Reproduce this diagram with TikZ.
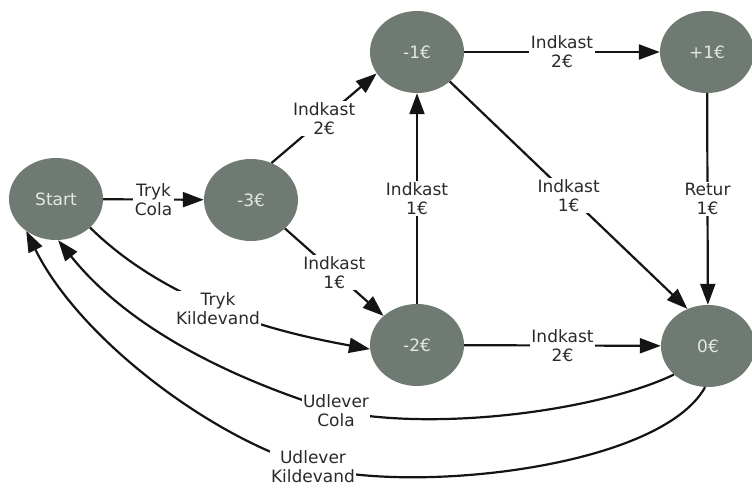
\documentclass[tikz,border=0pt]{standalone}
\usepackage{fontspec}
\setmainfont{DejaVu Sans}
\usetikzlibrary{shapes.geometric,arrows.meta}

\definecolor{stategray}{HTML}{6F7A72}
\definecolor{statetext}{HTML}{E4E7E4}
\definecolor{labeltext}{HTML}{2A2A2A}

\tikzset{
  state/.style={ellipse, fill=stategray, minimum width=94pt, minimum height=82pt,
    inner sep=0pt, text=statetext, font={\fontsize{17}{20}\selectfont}},
  lbl/.style={fill=white, inner sep=1.5pt, align=center, text=labeltext,
    font={\fontsize{17}{19}\selectfont}},
  edge/.style={draw=black!92, line width=2.2pt, -{Triangle[length=21pt,width=15pt]}},
}

\begin{document}
\begin{tikzpicture}[x=1pt,y=-1pt]
  \useasboundingbox[fill=white] (0,0) rectangle (752,488);

  % states of the vending machine
  \node[state] (start) at (56,199)  {Start};
  \node[state] (m3)    at (251,200) {-3€};
  \node[state] (m1)    at (417,52)  {-1€};
  \node[state] (p1)    at (707,52)  {+1€};
  \node[state] (m2)    at (417,345) {-2€};
  \node[state] (zero)  at (708,346) {0€};

  % straight transitions
  \draw[edge] (start) -- node[lbl] (lTC) {Tryk\\Cola} (m3);
  \draw[edge] (m3.61) -- node[lbl] (l32) {Indkast\\2€} (m1.208);
  \draw[edge] (m3.-40) -- node[lbl] (l31) {Indkast\\1€} (m2.139);
  \draw[edge] (m1) -- node[lbl] (l12) {Indkast\\2€} (p1);
  \draw[edge] (m2) -- node[lbl] (l21) {Indkast\\1€} (m1);
  \draw[edge] (m1.-42) -- node[lbl] (l10) {Indkast\\1€} (zero.119);
  \draw[edge] (p1) -- node[lbl] (lR) {Retur\\1€} (zero);
  \draw[edge] (m2) -- node[lbl] (l20) {Indkast\\2€} (zero);

  % curved transitions
  \draw[edge] (start.-40) .. controls (125,262) and (168,288) .. (218,309)
    node[lbl] (lTK) {Tryk\\Kildevand}
    .. controls (268,330) and (325,341) .. (m2.185);
  \draw[edge] (zero.-140) .. controls (600,410) and (440,432) .. (336,411)
    node[lbl] (lUC) {Udlever\\Cola}
    .. controls (235,380) and (130,330) .. (start.-87);
  \draw[edge] (zero.-94) .. controls (660,468) and (415,494) .. (313,467)
    node[lbl] (lUK) {Udlever\\Kildevand}
    .. controls (215,440) and (80,340) .. (start.-133);
\end{tikzpicture}
\end{document}
